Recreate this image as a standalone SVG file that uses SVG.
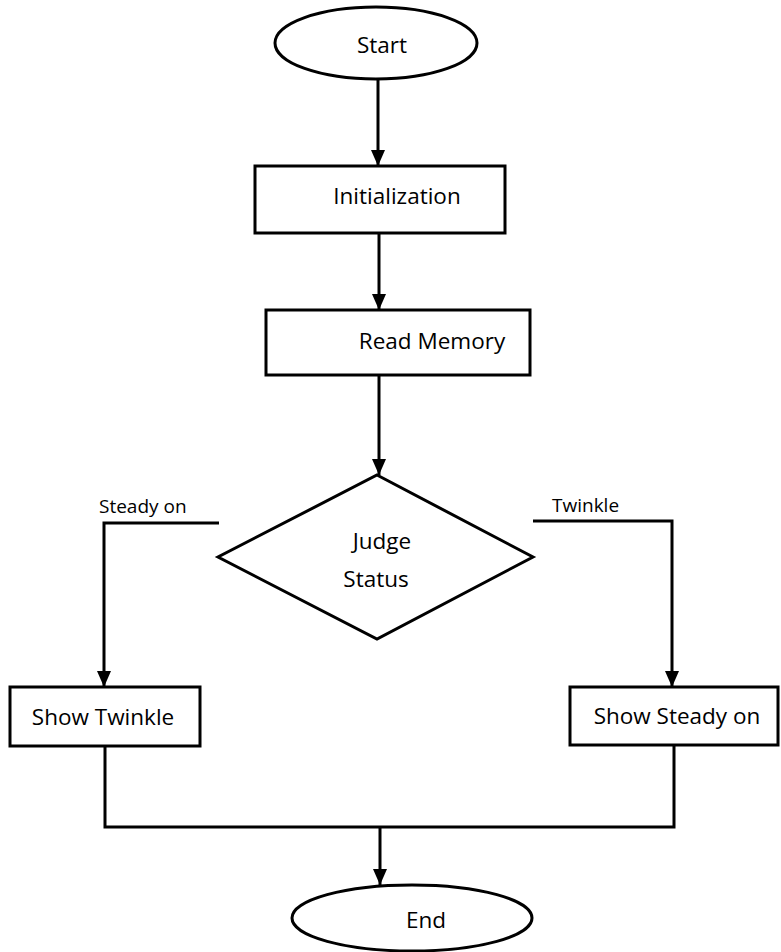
<svg xmlns="http://www.w3.org/2000/svg" width="781" height="952" viewBox="0 0 781 952">
<style>
.shape{fill:#fff;stroke:#000;stroke-width:3}
.line{fill:none;stroke:#000;stroke-width:3}
.t{font-family:"Open Sans","Liberation Sans",sans-serif;font-size:22.5px;fill:#000}
.s{font-family:"Open Sans","Liberation Sans",sans-serif;font-size:19px;fill:#000}
</style>
<defs>
<marker id="ah" markerWidth="16" markerHeight="14" refX="16" refY="7" orient="auto" markerUnits="userSpaceOnUse" viewBox="0 0 16 14">
<path d="M0,0 L16,7 L0,14 Z" fill="#000"/>
</marker>
</defs>
<g id="connectors">
<line class="line" x1="378" y1="79" x2="378" y2="166" marker-end="url(#ah)"/>
<line class="line" x1="379" y1="233" x2="379" y2="310" marker-end="url(#ah)"/>
<line class="line" x1="379" y1="375" x2="379" y2="475" marker-end="url(#ah)"/>
<polyline class="line" points="219,523 104,523 104,687" marker-end="url(#ah)"/>
<polyline class="line" points="533,521 672,521 672,687" marker-end="url(#ah)"/>
<polyline class="line" points="105,746 105,827 674,827 674,745"/>
<line class="line" x1="380" y1="827" x2="380" y2="885" marker-end="url(#ah)"/>
<text class="s" x="99" y="513">Steady on</text>
<text class="s" x="552" y="512">Twinkle</text>
</g>
<g id="start">
<ellipse class="shape" cx="376" cy="43" rx="101" ry="36"/>
<text class="t" x="382" y="53" text-anchor="middle">Start</text>
</g>
<g id="init">
<rect class="shape" x="255" y="166" width="250" height="67"/>
<text class="t" x="397" y="204" text-anchor="middle">Initialization</text>
</g>
<g id="read">
<rect class="shape" x="266" y="310" width="264" height="65"/>
<text class="t" x="432" y="349" text-anchor="middle">Read Memory</text>
</g>
<g id="judge">
<polygon class="shape" points="377,475 533,557 377,639 218,557"/>
<text class="t" x="382" y="549" text-anchor="middle">Judge</text>
<text class="t" x="376" y="587" text-anchor="middle">Status</text>
</g>
<g id="showTwinkle">
<rect class="shape" x="10" y="687" width="190" height="59"/>
<text class="t" x="103" y="725" text-anchor="middle">Show Twinkle</text>
</g>
<g id="showSteady">
<rect class="shape" x="570" y="687" width="208" height="58"/>
<text class="t" x="677" y="724" text-anchor="middle">Show Steady on</text>
</g>
<g id="end">
<ellipse class="shape" cx="412" cy="918" rx="120" ry="33"/>
<text class="t" x="426" y="928" text-anchor="middle">End</text>
</g>
</svg>
